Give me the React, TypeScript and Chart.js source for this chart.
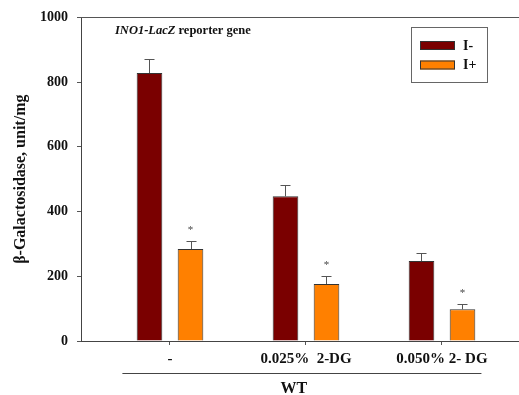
import React, { useEffect, useRef } from "react";
import { Chart, registerables } from "chart.js";

Chart.register(...registerables);

const categories = ["-", "0.025%  2-DG", "0.050% 2- DG"];
const seriesLabels = ["I-", "I+"];
const iMinus = [828, 447, 247];
const iMinusErr = [44, 34, 24];
const iPlus = [284, 176, 98];
const iPlusErr = [24, 24, 17];
const iPlusStar = [true, true, true];
const yTicks = [0, 200, 400, 600, 800, 1000];
const groupLabel = "WT";

const COLORS = ["#7a0000", "#ff8000"];
const SERIF = "'Liberation Serif', 'Times New Roman', serif";

const extrasPlugin = {
  id: "extras",
  afterDatasetsDraw(chart: any) {
    const ctx = chart.ctx;
    const area = chart.chartArea;
    const y = chart.scales.y;
    const x = chart.scales.x;
    const errs = [iMinusErr, iPlusErr];
    const stars = [null, iPlusStar];
    ctx.save();
    // top border
    ctx.strokeStyle = "#555";
    ctx.lineWidth = 1;
    ctx.beginPath();
    ctx.moveTo(area.left, Math.round(area.top) + 0.5);
    ctx.lineTo(area.right, Math.round(area.top) + 0.5);
    ctx.stroke();
    // error bars and stars
    chart.data.datasets.forEach((ds: any, di: number) => {
      const meta = chart.getDatasetMeta(di);
      meta.data.forEach((bar: any, i: number) => {
        const v = ds.data[i].y;
        const top = y.getPixelForValue(v + errs[di][i]);
        const base = y.getPixelForValue(v);
        const bx = Math.round(bar.x) + 0.5;
        ctx.strokeStyle = "#555";
        ctx.lineWidth = 1;
        ctx.beginPath();
        ctx.moveTo(bx, base);
        ctx.lineTo(bx, Math.round(top) + 0.5);
        ctx.moveTo(bx - 5, Math.round(top) + 0.5);
        ctx.lineTo(bx + 5, Math.round(top) + 0.5);
        ctx.stroke();
        const st = stars[di];
        if (st && st[i]) {
          ctx.fillStyle = "#444";
          ctx.font = `11px ${SERIF}`;
          ctx.textAlign = "center";
          ctx.textBaseline = "alphabetic";
          ctx.fillText("*", bar.x, top - 8);
        }
      });
    });
    // inner title
    ctx.fillStyle = "#111";
    ctx.textAlign = "left";
    ctx.textBaseline = "alphabetic";
    ctx.font = `italic bold 12.5px ${SERIF}`;
    const t1 = "INO1-LacZ";
    const tx = 115;
    const ty = 34;
    ctx.fillText(t1, tx, ty);
    const w1 = ctx.measureText(t1).width;
    ctx.font = `bold 12.5px ${SERIF}`;
    ctx.fillText(" reporter gene", tx + w1, ty);
    // legend
    ctx.strokeStyle = "#666";
    ctx.lineWidth = 1;
    ctx.strokeRect(411.5, 27.5, 76, 55);
    chart.data.datasets.forEach((ds: any, di: number) => {
      const sy = 41 + di * 19.5;
      ctx.fillStyle = ds.backgroundColor;
      ctx.fillRect(420, sy, 35, 9);
      ctx.strokeStyle = "#333";
      ctx.strokeRect(420.5, sy + 0.5, 34, 8);
      ctx.fillStyle = "#111";
      ctx.font = `bold 14px ${SERIF}`;
      ctx.textBaseline = "middle";
      ctx.fillText(ds.label, 463, sy + 5);
    });
    // group underline and label
    const lx1 = x.getPixelForValue(-0.35);
    const lx2 = x.getPixelForValue(2.29);
    ctx.strokeStyle = "#444";
    ctx.beginPath();
    ctx.moveTo(lx1, 373.5);
    ctx.lineTo(lx2, 373.5);
    ctx.stroke();
    ctx.fillStyle = "#111";
    ctx.font = `bold 16px ${SERIF}`;
    ctx.textAlign = "center";
    ctx.textBaseline = "middle";
    ctx.fillText(groupLabel, x.getPixelForValue(0.91), 389);
    ctx.restore();
  },
};

export default function App() {
  const ref = useRef<HTMLCanvasElement | null>(null);
  useEffect(() => {
    document.body.style.margin = "0";
    const canvas = ref.current;
    if (!canvas) return;
    const chart = new Chart(canvas, {
      type: "bar",
      data: {
        datasets: [
          {
            label: seriesLabels[0],
            data: iMinus.map((v, i) => ({ x: i, y: v })),
            backgroundColor: COLORS[0],
            borderColor: "#333",
            borderWidth: 1,
          },
          {
            label: seriesLabels[1],
            data: iPlus.map((v, i) => ({ x: i, y: v })),
            backgroundColor: COLORS[1],
            borderColor: "#333",
            borderWidth: 1,
          },
        ],
      },
      options: {
        animation: false,
        responsive: false,
        devicePixelRatio: 1,
        layout: { padding: { top: 17, left: 0, right: 0, bottom: 0 } },
        datasets: {
          bar: { categoryPercentage: 0.603, barPercentage: 0.625 },
        },
        plugins: {
          legend: { display: false },
          tooltip: { enabled: false },
          title: { display: false },
        },
        scales: {
          x: {
            type: "linear",
            min: -0.6544,
            max: 2.5662,
            offset: false,
            afterBuildTicks: (scale: any) => {
              scale.ticks = categories.map((_, i) => ({ value: i }));
            },
            afterFit: (scale: any) => {
              scale.height = 54;
            },
            grid: {
              offset: false,
              drawOnChartArea: false,
              drawTicks: true,
              tickLength: 4,
              color: "#555",
            },
            border: { display: true, color: "#444", width: 1 },
            ticks: {
              autoSkip: false,
              maxRotation: 0,
              padding: 5,
              color: "#111",
              font: { family: SERIF, size: 15, weight: "bold" },
              callback: (v: any) => categories[v] ?? "",
            },
          },
          y: {
            min: 0,
            max: 1000,
            afterBuildTicks: (scale: any) => {
              scale.ticks = yTicks.map((v) => ({ value: v }));
            },
            afterFit: (scale: any) => {
              scale.width = 81;
            },
            grid: {
              drawOnChartArea: false,
              drawTicks: true,
              tickLength: 4,
              color: "#555",
            },
            border: { display: true, color: "#444", width: 1 },
            ticks: {
              padding: 9,
              color: "#111",
              font: { family: SERIF, size: 14, weight: "bold" },
              callback: (v: any) => String(v),
            },
            title: {
              display: true,
              text: "β-Galactosidase, unit/mg",
              color: "#111",
              padding: { top: 11, bottom: 0 },
              font: { family: SERIF, size: 16, weight: "bold" },
            },
          },
        },
      },
      plugins: [extrasPlugin],
    } as any);
    return () => chart.destroy();
  }, []);
  return (
    <div style={{ width: 519, height: 395, overflow: "hidden" }}>
      <canvas ref={ref} width={519} height={395} style={{ display: "block" }} />
    </div>
  );
}
